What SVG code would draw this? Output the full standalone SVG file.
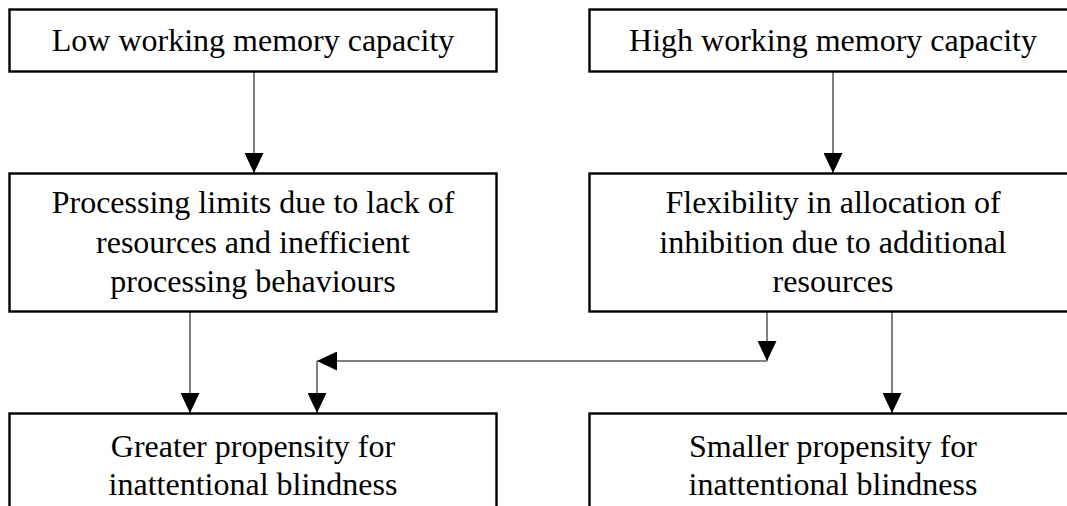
<svg xmlns="http://www.w3.org/2000/svg" width="1067" height="506" viewBox="0 0 1067 506">
<defs>
<style>
.box{fill:#fff;stroke:#000;stroke-width:2.4}
.t{font-family:"Liberation Serif","Times New Roman",serif;font-size:32px;fill:#000;text-anchor:middle}
.c{fill:none;stroke:#808080;stroke-width:2}
</style>
<marker id="ah" viewBox="0 0 20 19" refX="20" refY="9.5" markerWidth="20" markerHeight="19" markerUnits="userSpaceOnUse" orient="auto">
<path d="M0,0 L20,9.5 L0,19 z" fill="#000"/>
</marker>
</defs>
<rect width="1067" height="506" fill="#fff"/>
<g id="connectors">
<path class="c" d="M254,72 V173" marker-end="url(#ah)"/>
<path class="c" d="M833,72 V173" marker-end="url(#ah)"/>
<path class="c" d="M190,312 V413" marker-end="url(#ah)"/>
<path class="c" d="M767,312 V361" marker-end="url(#ah)"/>
<path class="c" d="M767,361 H317" marker-end="url(#ah)"/>
<path class="c" d="M317,361 V413" marker-end="url(#ah)"/>
<path class="c" d="M892,312 V413" marker-end="url(#ah)"/>
</g>
<g id="low">
<rect class="box" x="9.5" y="9.5" width="487" height="62"/>
<text class="t" x="253" y="51">Low working memory capacity</text>
</g>
<g id="high">
<rect class="box" x="589.5" y="9.5" width="487" height="62"/>
<text class="t" x="833" y="51">High working memory capacity</text>
</g>
<g id="processing">
<rect class="box" x="9.5" y="173.5" width="487" height="138"/>
<text class="t" x="253" y="213">Processing limits due to lack of</text>
<text class="t" x="253" y="253">resources and inefficient</text>
<text class="t" x="253" y="292">processing behaviours</text>
</g>
<g id="flexibility">
<rect class="box" x="589.5" y="173.5" width="487" height="138"/>
<text class="t" x="833" y="213">Flexibility in allocation of</text>
<text class="t" x="833" y="253">inhibition due to additional</text>
<text class="t" x="833" y="292">resources</text>
</g>
<g id="greater">
<rect class="box" x="9.5" y="413.5" width="487" height="120"/>
<text class="t" x="253" y="457">Greater propensity for</text>
<text class="t" x="253" y="495">inattentional blindness</text>
</g>
<g id="smaller">
<rect class="box" x="589.5" y="413.5" width="487" height="120"/>
<text class="t" x="833" y="457">Smaller propensity for</text>
<text class="t" x="833" y="495">inattentional blindness</text>
</g>
</svg>
